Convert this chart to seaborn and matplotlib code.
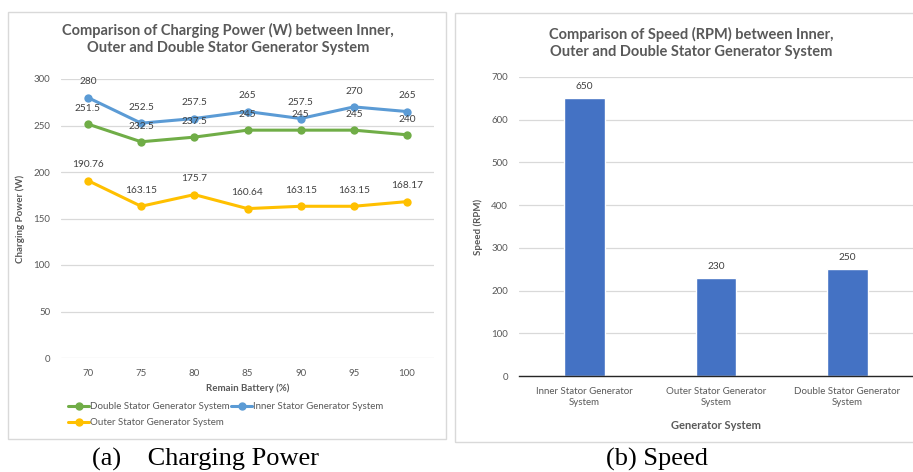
import matplotlib
matplotlib.use("Agg")
import matplotlib.pyplot as plt
import seaborn as sns
import pandas as pd
from matplotlib.patches import Rectangle
from matplotlib.lines import Line2D

# ---- data ----
battery = [70, 75, 80, 85, 90, 95, 100]
double_power = [251.5, 232.5, 237.5, 245, 245, 245, 240]
inner_power = [280, 252.5, 257.5, 265, 257.5, 270, 265]
outer_power = [190.76, 163.15, 175.7, 160.64, 163.15, 163.15, 168.17]
power_labels = {
    "Double Stator Generator System": ["251.5", "232.5", "237.5", "245", "245", "245", "240"],
    "Inner Stator Generator System": ["280", "252.5", "257.5", "265", "257.5", "270", "265"],
    "Outer Stator Generator System": ["190.76", "163.15", "175.7", "160.64", "163.15", "163.15", "168.17"],
}
series_names = ["Double Stator Generator System", "Inner Stator Generator System",
                "Outer Stator Generator System"]
systems = ["Inner Stator Generator\nSystem", "Outer Stator Generator\nSystem",
           "Double Stator Generator\nSystem"]
speed = [650, 230, 250]

sns.set_style("white")
plt.rcParams['font.family'] = ['Lato', 'DejaVu Sans']

GREEN, BLUE, YELLOW, BAR = "#70AD47", "#5B9BD5", "#FFC000", "#4472C4"
GRID = "#D9D9D9"
TXT = "#595959"
palette = {series_names[0]: GREEN, series_names[1]: BLUE, series_names[2]: YELLOW}

W, H = 913, 472
fig = plt.figure(figsize=(W / 100, H / 100), dpi=100)

def fx(x): return x / W
def fy(y): return 1 - y / H

# panel frames
fig.patches.append(Rectangle((fx(8), fy(439)), fx(438), 427 / H, transform=fig.transFigure,
                             fill=False, edgecolor="#D9D9D9", lw=1.0))
fig.patches.append(Rectangle((fx(455), fy(442)), fx(470), 429 / H, transform=fig.transFigure,
                             fill=False, edgecolor="#D9D9D9", lw=1.0))

# ---- left: line chart ----
df = pd.DataFrame({
    "battery": battery * 3,
    "power": double_power + inner_power + outer_power,
    "system": [series_names[0]] * 7 + [series_names[1]] * 7 + [series_names[2]] * 7,
})
ax1 = fig.add_axes([fx(61.4), fy(358), fx(433.6 - 61.4), (358 - 79) / H])
sns.lineplot(data=df, x="battery", y="power", hue="system", palette=palette,
             hue_order=series_names, marker="o", markersize=6, markeredgewidth=0,
             linewidth=2.2, ax=ax1, legend=False)
for name in series_names:
    sub = df[df.system == name]
    for xv, yv, lab in zip(sub.battery, sub.power, power_labels[name]):
        ax1.annotate(lab, (xv, yv), xytext=(0, 8), textcoords="offset points",
                     ha="center", va="bottom", fontsize=7.3, color="#404040")
ax1.set_xlim(67.5, 102.5)
ax1.set_ylim(0, 300)
ax1.set_yticks(range(0, 301, 50))
ax1.set_xticks(battery)
ax1.grid(axis="y", color=GRID, lw=0.9)
ax1.set_axisbelow(True)
for s in ax1.spines.values():
    s.set_visible(False)
ax1.tick_params(axis="both", length=0, labelsize=7, colors=TXT, pad=8)
ax1.set_xlabel("Remain Battery (%)", fontsize=7, fontweight="bold", color=TXT, labelpad=4)
ax1.set_ylabel("Charging Power (W)", fontsize=7, fontweight="bold", color=TXT, labelpad=6)
fig.text(fx(228), fy(39), "Comparison of Charging Power (W) between Inner,\nOuter and Double Stator Generator System",
         ha="center", va="center", fontsize=10.5, fontweight="bold", color=TXT, linespacing=1.35)

# legend: row 1 Double, Inner; row 2 Outer (column-wise fill order)
leg_order = [series_names[0], series_names[2], series_names[1]]
handles = [Line2D([], [], color=palette[n], marker="o", markersize=5, lw=2.2) for n in leg_order]
leg = fig.legend(handles, leg_order, loc="upper left", bbox_to_anchor=(fx(68), fy(402)),
                 ncol=2, frameon=False, fontsize=7, handlelength=2.2, handletextpad=0.1,
                 columnspacing=0.1, labelspacing=0.75, borderaxespad=0, borderpad=0)
for t in leg.get_texts():
    t.set_color(TXT)

# ---- right: bar chart ----
dfb = pd.DataFrame({"system": systems, "speed": speed})
ax2 = fig.add_axes([fx(519), fy(376), fx(913 - 519), (376 - 77) / H])
sns.barplot(data=dfb, x="system", y="speed", color=BAR, width=0.31, ax=ax2, saturation=1)
for p, v in zip(ax2.patches, speed):
    ax2.annotate(str(v), (p.get_x() + p.get_width() / 2, p.get_height()), xytext=(0, 5),
                 textcoords="offset points", ha="center", va="bottom", fontsize=7.3, color="#404040")
ax2.set_ylim(0, 700)
ax2.set_xlim(-0.5, 2.5)
ax2.set_yticks(range(0, 701, 100))
ax2.grid(axis="y", color=GRID, lw=0.9)
ax2.set_axisbelow(True)
for s in ax2.spines.values():
    s.set_visible(False)
ax2.spines["bottom"].set_visible(True)
ax2.spines["bottom"].set_color("#262626")
ax2.spines["bottom"].set_linewidth(1.0)
ax2.tick_params(axis="both", length=0, labelsize=7, colors=TXT, pad=8)
ax2.set_xlabel("Generator System", fontsize=8, fontweight="bold", color=TXT, labelpad=10)
ax2.set_ylabel("Speed (RPM)", fontsize=7, fontweight="bold", color=TXT, labelpad=6)
fig.text(fx(691), fy(43), "Comparison of Speed (RPM) between Inner,\nOuter and Double Stator Generator System",
         ha="center", va="center", fontsize=10.5, fontweight="bold", color=TXT, linespacing=1.35)

# captions
fig.text(fx(205), fy(459), "(a)    Charging Power", ha="center", va="center",
         fontsize=19, family="Liberation Serif", color="black")
fig.text(fx(657), fy(459), "(b) Speed", ha="center", va="center",
         fontsize=19, family="Liberation Serif", color="black")

fig.savefig("out.png", dpi=100, facecolor="white")
